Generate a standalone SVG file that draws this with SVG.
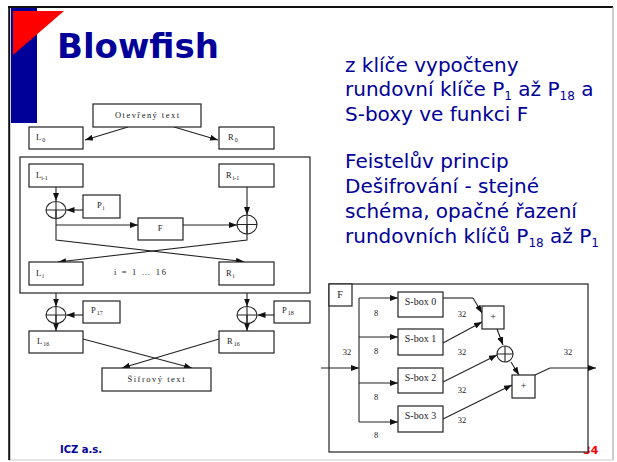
<svg xmlns="http://www.w3.org/2000/svg" width="617" height="462" viewBox="0 0 617 462">
<defs>
<marker id="ah" markerWidth="8" markerHeight="6" refX="8" refY="3" orient="auto" markerUnits="userSpaceOnUse"><path d="M0,0 L8,3 L0,6 z" fill="#111"/></marker>
</defs>
<style>
.box{fill:#fff;stroke:#222;stroke-width:1.2}
.ln{fill:none;stroke:#222;stroke-width:1.1}
.arr{fill:none;stroke:#222;stroke-width:1.1;marker-end:url(#ah)}
.lb{font-family:"Liberation Serif","Times New Roman",serif;font-size:10px;fill:#222}
.sm{font-family:"Liberation Serif","Times New Roman",serif;font-size:8.5px;fill:#222}
.bt{font-family:"DejaVu Sans",Verdana,sans-serif;font-size:20px;fill:#000099}
</style>
<rect x="0" y="0" width="617" height="462" fill="#fff"/>
<g id="frame">
<line x1="8" y1="7" x2="613" y2="7" stroke="#111" stroke-width="2"/>
<line x1="613" y1="7" x2="613" y2="460" stroke="#999" stroke-width="1"/>
<line x1="8" y1="460" x2="613" y2="460" stroke="#ddd" stroke-width="1.5"/>
<line x1="9.2" y1="7" x2="9.2" y2="460" stroke="#111" stroke-width="2"/>
<rect x="11" y="8" width="26" height="115" fill="#000099"/>
<polygon points="13,11 64,11 13,55" fill="#ff0000"/>
</g>
<text id="title" x="57" y="58" font-family="DejaVu Sans,Verdana,sans-serif" font-weight="bold" font-size="34" fill="#000099">Blowfish</text>
<g id="notes">
<text class="bt" x="345" y="72">z klíče vypočteny</text>
<text class="bt" x="345" y="96">rundovní klíče P<tspan font-size="12" dy="3.5">1</tspan><tspan dy="-3.5"> až P</tspan><tspan font-size="12" dy="3.5">18</tspan><tspan dy="-3.5"> a</tspan></text>
<text class="bt" x="345" y="121">S-boxy ve funkci F</text>
<text class="bt" x="345" y="168">Feistelův princip</text>
<text class="bt" x="345" y="193">Dešifrování - stejné</text>
<text class="bt" x="345" y="218">schéma, opačné řazení</text>
<text class="bt" x="345" y="243">rundovních klíčů P<tspan font-size="12" dy="3.5">18</tspan><tspan dy="-3.5"> až P</tspan><tspan font-size="12" dy="3.5">1</tspan></text>
</g>
<text id="footer" x="60" y="453" font-family="DejaVu Sans,Verdana,sans-serif" font-weight="bold" font-size="10" fill="#000099">ICZ a.s.</text>
<text id="pagenum" x="583" y="454" font-family="DejaVu Sans,Verdana,sans-serif" font-weight="bold" font-size="11" fill="#ff0000">34</text>

<!-- Feistel diagram -->
<rect id="round" class="box" x="20" y="157" width="290" height="136" fill="none"/>
<g id="connectors">
<path class="arr" d="M128,127 L85,140"/>
<path class="arr" d="M174,127 L218,140"/>
<path class="arr" d="M56,187 L56,201"/>
<path class="arr" d="M83,210 L66.5,210"/>
<path class="ln" d="M56,210 L56,240 L243,261.5"/>
<path class="arr" d="M243,261.5 L244,261.6"/>
<path class="arr" d="M56,225 L138,225"/>
<path class="arr" d="M183,225 L237,225"/>
<path class="arr" d="M247,187 L247,215"/>
<path class="ln" d="M247,225 L247,240 L58,262"/>
<path class="arr" d="M59,261.9 L58,262"/>
<path class="arr" d="M56,293 L56,306.5"/>
<path class="arr" d="M83,315 L66.5,315"/>
<path class="arr" d="M56,315 L56,331"/>
<path class="arr" d="M247,293 L247,306.5"/>
<path class="arr" d="M274,315 L257.5,315"/>
<path class="arr" d="M247,315 L247,331"/>
<path class="arr" d="M83,339 L192,368"/>
<path class="arr" d="M219,339 L122,368"/>
</g>
<g id="plaintext"><rect class="box" x="93" y="104" width="108" height="23"/><text class="sm" x="147" y="118" text-anchor="middle" textLength="64" lengthAdjust="spacing">Otevřený text</text></g>
<g id="L0"><rect class="box" x="29" y="127" width="54" height="22"/><text class="sm" x="36" y="140">L<tspan font-size="6" dy="2" dx="1">0</tspan></text></g>
<g id="R0"><rect class="box" x="219" y="127" width="55" height="22"/><text class="sm" x="228" y="140">R<tspan font-size="6" dy="2" dx="1">0</tspan></text></g>
<g id="Li-1"><rect class="box" x="29" y="164" width="54" height="23"/><text class="sm" x="36" y="178">L<tspan font-size="6" dy="1.5">i-1</tspan></text></g>
<g id="Ri-1"><rect class="box" x="219" y="164" width="55" height="23"/><text class="sm" x="226" y="178">R<tspan font-size="6" dy="1.5" dx="1">i-1</tspan></text></g>
<g id="xorL"><ellipse cx="56" cy="210" rx="10" ry="8.5" fill="none" stroke="#222" stroke-width="1.1"/><path class="ln" d="M46,210 L66,210 M56,201.5 L56,218.5"/></g>
<g id="Pi"><rect class="box" x="83" y="195" width="37" height="23"/><text class="sm" x="97" y="208">P<tspan font-size="6" dy="2" dx="1">i</tspan></text></g>
<g id="F1"><rect class="box" x="138" y="218" width="45" height="22"/><text class="sm" x="160" y="231" text-anchor="middle">F</text></g>
<g id="xorR"><ellipse cx="247" cy="224.5" rx="10" ry="9.5" fill="none" stroke="#222" stroke-width="1.1"/><path class="ln" d="M237,224.5 L257,224.5 M247,215 L247,234"/></g>
<g id="Li"><rect class="box" x="29" y="262" width="54" height="23"/><text class="sm" x="36" y="276">L<tspan font-size="6" dy="1.5" dx="1">i</tspan></text></g>
<g id="Ri"><rect class="box" x="219" y="262" width="55" height="23"/><text class="sm" x="226" y="276">R<tspan font-size="6" dy="1.5" dx="1">i</tspan></text></g>
<text id="range" class="sm" x="140" y="275" text-anchor="middle" textLength="52" lengthAdjust="spacing">i = 1 … 16</text>
<g id="xorL2"><ellipse cx="56" cy="315" rx="10" ry="8.5" fill="none" stroke="#222" stroke-width="1.1"/><path class="ln" d="M46,315 L66,315 M56,306.5 L56,323.5"/></g>
<g id="P17"><rect class="box" x="83" y="301" width="37" height="22"/><text class="sm" x="91" y="313">P<tspan font-size="6" dy="2" dx="1">17</tspan></text></g>
<g id="xorR2"><ellipse cx="247" cy="315" rx="10" ry="8.5" fill="none" stroke="#222" stroke-width="1.1"/><path class="ln" d="M237,315 L257,315 M247,306.5 L247,323.5"/></g>
<g id="P18"><rect class="box" x="274" y="301" width="36" height="22"/><text class="sm" x="282" y="313">P<tspan font-size="6" dy="2" dx="1">18</tspan></text></g>
<g id="L16"><rect class="box" x="29" y="331" width="54" height="22"/><text class="sm" x="37" y="344">L<tspan font-size="6" dy="2" dx="1">16</tspan></text></g>
<g id="R16"><rect class="box" x="219" y="331" width="55" height="22"/><text class="sm" x="227" y="344">R<tspan font-size="6" dy="2" dx="1">16</tspan></text></g>
<g id="ciphertext"><rect class="box" x="102" y="368" width="109" height="23"/><text class="sm" x="156" y="382" text-anchor="middle" textLength="57" lengthAdjust="spacing">Šifrový text</text></g>

<!-- F function diagram -->
<g id="Fbox"><rect class="box" x="329" y="284" width="259" height="168"/></g>
<g id="Flabel"><rect class="box" x="329" y="284" width="23" height="22"/><text class="lb" x="340" y="298" text-anchor="middle">F</text></g>
<g id="connectors-F">
<path class="arr" d="M321,368 L359,368"/>
<path class="ln" d="M359,298 L359,422"/>
<path class="arr" d="M359,298 L398,298"/>
<path class="arr" d="M359,337 L398,337"/>
<path class="arr" d="M359,383 L398,383"/>
<path class="arr" d="M359,422 L398,422"/>
<path class="ln" d="M443,298 L473,298"/>
<path class="arr" d="M473,298 L482,313"/>
<path class="arr" d="M443,343 L482,322"/>
<path class="arr" d="M497,329 L503,345"/>
<path class="arr" d="M443,382 L497,355"/>
<path class="arr" d="M511,362 L519,375"/>
<path class="arr" d="M443,419 L512,385"/>
<path class="ln" d="M535,375 L550,368"/>
<path class="arr" d="M550,368 L596,368" stroke="#777"/>
</g>
<g id="sbox0"><rect class="box" x="398" y="292" width="45" height="25"/><text class="lb" x="420.5" y="305" text-anchor="middle">S-box 0</text></g>
<g id="sbox1"><rect class="box" x="398" y="329" width="45" height="26"/><text class="lb" x="420.5" y="342" text-anchor="middle">S-box 1</text></g>
<g id="sbox2"><rect class="box" x="398" y="368" width="45" height="25"/><text class="lb" x="420.5" y="381" text-anchor="middle">S-box 2</text></g>
<g id="sbox3"><rect class="box" x="398" y="406" width="45" height="26"/><text class="lb" x="420.5" y="419" text-anchor="middle">S-box 3</text></g>
<g id="plus1"><rect class="box" x="482" y="306" width="22" height="23"/><text class="lb" x="493" y="320" text-anchor="middle">+</text></g>
<g id="xorF"><circle cx="505" cy="354" r="8" fill="#fff" stroke="#222" stroke-width="1.1"/><path class="ln" d="M497,354 L513,354 M505,346 L505,362"/></g>
<g id="plus2"><rect class="box" x="512" y="375" width="23" height="23"/><text class="lb" x="523.5" y="389" text-anchor="middle">+</text></g>
<g id="bitlabels">
<text class="sm" x="376" y="316" text-anchor="middle" font-size="7">8</text>
<text class="sm" x="376" y="354" text-anchor="middle" font-size="7">8</text>
<text class="sm" x="376" y="400" text-anchor="middle" font-size="7">8</text>
<text class="sm" x="376" y="438" text-anchor="middle" font-size="7">8</text>
<text class="sm" x="347" y="355" text-anchor="middle" font-size="7">32</text>
<text class="sm" x="462" y="317" text-anchor="middle" font-size="7">32</text>
<text class="sm" x="462" y="355" text-anchor="middle" font-size="7">32</text>
<text class="sm" x="462" y="393" text-anchor="middle" font-size="7">32</text>
<text class="sm" x="462" y="423" text-anchor="middle" font-size="7">32</text>
<text class="sm" x="568" y="355" text-anchor="middle" font-size="7">32</text>
</g>
</svg>
